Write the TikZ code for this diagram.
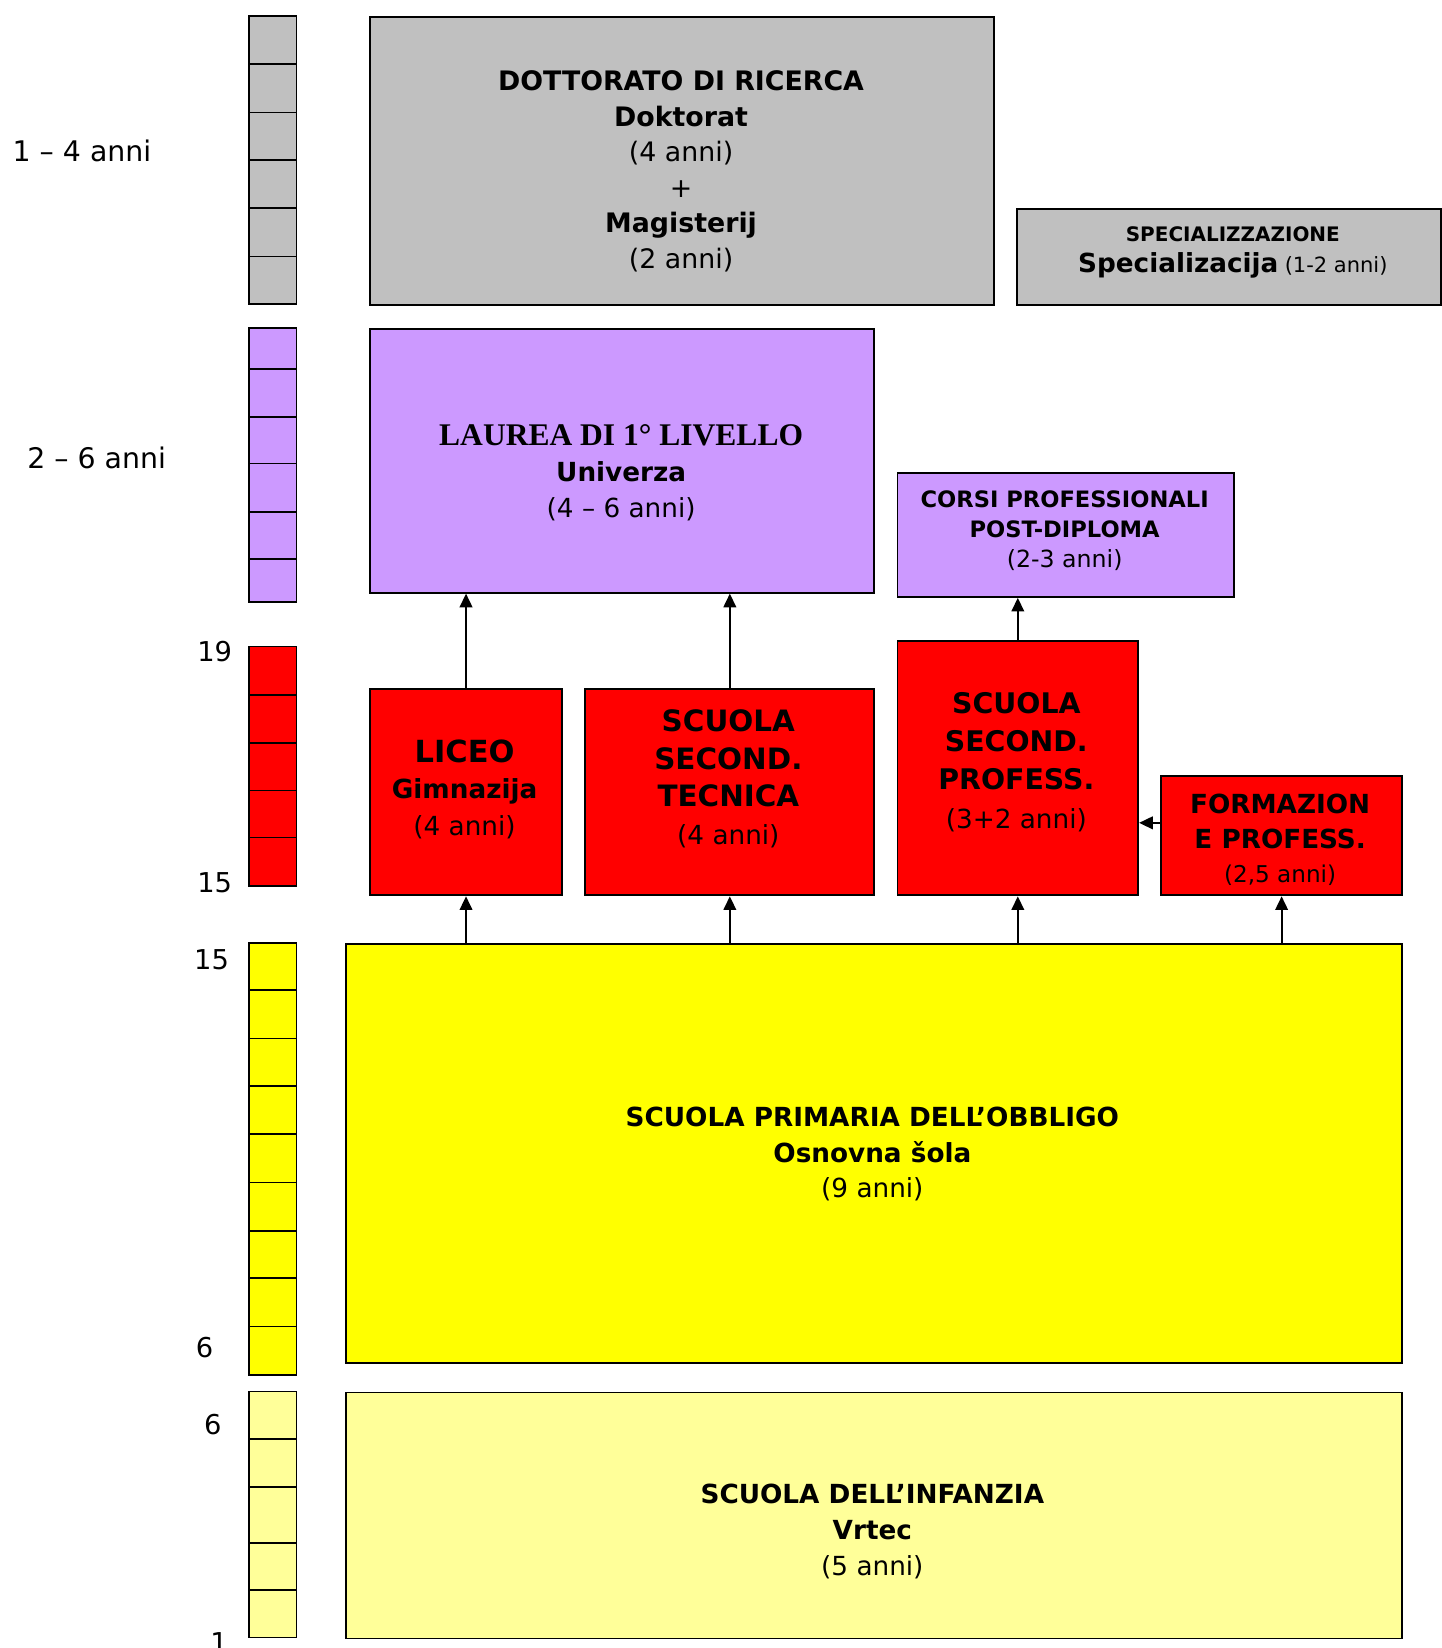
\documentclass[tikz,border=0pt]{standalone}
\usepackage{fontspec}
\setmainfont{DejaVu Sans}
\newfontfamily\laureafont{Liberation Serif}
\usetikzlibrary{arrows.meta}
\definecolor{cgray}{HTML}{C0C0C0}
\definecolor{cpurple}{HTML}{CC99FF}
\definecolor{cred}{HTML}{FF0000}
\definecolor{cyellow}{HTML}{FFFF00}
\definecolor{clight}{HTML}{FFFF99}
\newcommand\fsz[2]{\fontsize{#1}{#2}\selectfont}
\tikzset{
 box/.style={draw=black, line width=1.8pt, anchor=north west, inner sep=0pt},
 txt/.style={align=center, inner sep=0pt},
 ruler/.style={draw=black, line width=1.5pt},
 arr/.style={line width=1.8pt, -{Triangle[length=13pt,width=12pt]}},
 lab/.style={inner sep=0pt, font=\fsz{26}{30}},
}
\begin{document}
\begin{tikzpicture}[x=1pt,y=-1pt]
\useasboundingbox (0,0) rectangle (1372,1568);
% rulers
\draw[ruler, fill=cgray] (237,15) rectangle (282,289);
\foreach \y in {61,107,152,198,244} \draw[ruler] (237,\y) -- (282,\y);
\draw[ruler, fill=cpurple] (237,312) rectangle (282,573);
\foreach \y in {351,397,441,487,532} \draw[ruler] (237,\y) -- (282,\y);
\draw[ruler, fill=cred] (237,615) rectangle (282,843);
\foreach \y in {661,707,752,797} \draw[ruler] (237,\y) -- (282,\y);
\draw[ruler, fill=cyellow] (237,897) rectangle (282,1308);
\foreach \y in {942,988,1033,1079,1125,1171,1216,1262} \draw[ruler] (237,\y) -- (282,\y);
\draw[ruler, fill=clight] (237,1324) rectangle (282,1558);
\foreach \y in {1369,1415,1468,1513} \draw[ruler] (237,\y) -- (282,\y);
% left labels
\node[lab, font=\fsz{27}{30}] (l1) at (78,144) {1 – 4 anni};
\node[lab, font=\fsz{27}{30}] (l2) at (92,436) {2 – 6 anni};
\node[lab, anchor=east] (l3) at (221,620) {19};
\node[lab, anchor=east] (l4) at (221,840) {15};
\node[lab, anchor=east] (l5) at (218,913) {15};
\node[lab, anchor=east] (l6) at (203,1282) {6};
\node[lab, anchor=east] (l7) at (211,1355) {6};
\node[lab, anchor=east] (l8) at (217,1563) {1};
% boxes
\node[box, fill=cgray, minimum width=594pt, minimum height=274pt] (dott) at (351,15) {};
\node[box, fill=cgray, minimum width=403pt, minimum height=91pt] (spec) at (967,198) {};
\node[box, fill=cpurple, minimum width=480pt, minimum height=251pt] (laurea) at (351,312) {};
\node[box, fill=cpurple, minimum width=320pt, minimum height=118pt] (corsi) at (853,449) {};
\node[box, fill=cred, minimum width=183pt, minimum height=196pt] (liceo) at (351,655) {};
\node[box, fill=cred, minimum width=275pt, minimum height=196pt] (tecn) at (556,655) {};
\node[box, fill=cred, minimum width=229pt, minimum height=242pt] (prof) at (853,609) {};
\node[box, fill=cred, minimum width=229pt, minimum height=114pt] (form) at (1104,737) {};
\node[box, fill=cyellow, minimum width=1005pt, minimum height=399pt] (prim) at (328,897) {};
\node[box, fill=clight, minimum width=1005pt, minimum height=234pt] (inf) at (328,1324) {};
% texts
\node[txt, font=\fsz{25.5}{33.8}] (dottT) at (648,163)
 {\bfseries DOTTORATO DI RICERCA\\ \bfseries Doktorat\\ (4 anni)\\ +\\ \bfseries Magisterij\\ (2 anni)};
\node[txt, font=\fsz{19}{30}] (specT) at (1173,240)
 {\bfseries SPECIALIZZAZIONE\\ {\fsz{25}{30}\bfseries Specializacija} {\fsz{20}{30}(1-2 anni)}};
\node[txt, font=\fsz{25}{34}] (laureaT) at (591,450)
 {{\laureafont\fsz{30}{34}\bfseries LAUREA DI 1° LIVELLO}\\ \bfseries Univerza\\ (4 – 6 anni)};
\node[txt, font=\fsz{21.5}{28.5}] (corsiT) at (1013,505)
 {\bfseries CORSI PROFESSIONALI\\ \bfseries POST-DIPLOMA\\ {\fsz{22.5}{28.5}(2-3 anni)}};
\node[txt, font=\fsz{25}{34.5}] (liceoT) at (442,751)
 {{\fsz{29}{34.5}\bfseries LICEO}\\ \bfseries Gimnazija\\ (4 anni)};
\node[txt, font=\fsz{28}{36}] (tecnT) at (693,741)
 {\bfseries SCUOLA\\ \bfseries SECOND.\\ \bfseries TECNICA\\ {\fsz{25}{36}(4 anni)}};
\node[txt, font=\fsz{27}{36.5}] (profT) at (967,725)
 {\bfseries SCUOLA\\ \bfseries SECOND.\\ \bfseries PROFESS.\\ {\fsz{25}{36.5}(3+2 anni)}};
\node[txt, font=\fsz{25}{33}] (formT) at (1218,799)
 {\bfseries FORMAZION\\ \bfseries E PROFESS.\\ {\fsz{22}{33}(2,5 anni)}};
\node[txt, font=\fsz{25}{33.5}] (primT) at (830,1098)
 {\bfseries SCUOLA PRIMARIA DELL’OBBLIGO\\ \bfseries Osnovna šola\\ (9 anni)};
\node[txt, font=\fsz{25}{34}] (infT) at (830,1457)
 {\bfseries SCUOLA DELL’INFANZIA\\ \bfseries Vrtec\\ (5 anni)};
% arrows
\draw[arr] (liceo.north) -- (liceo.north |- laurea.south);
\draw[arr] (tecn.north) -- (tecn.north |- laurea.south);
\draw[arr] (prof.north) -- (prof.north |- corsi.south);
\draw[arr] (liceo.south |- prim.north) -- (liceo.south);
\draw[arr] (tecn.south |- prim.north) -- (tecn.south);
\draw[arr] (prof.south |- prim.north) -- (prof.south);
\draw[arr] (form.south |- prim.north) -- (form.south);
\draw[arr] ([yshift=12pt]form.west) -- ([yshift=12pt]form.west -| prof.east);
\end{tikzpicture}
\end{document}
